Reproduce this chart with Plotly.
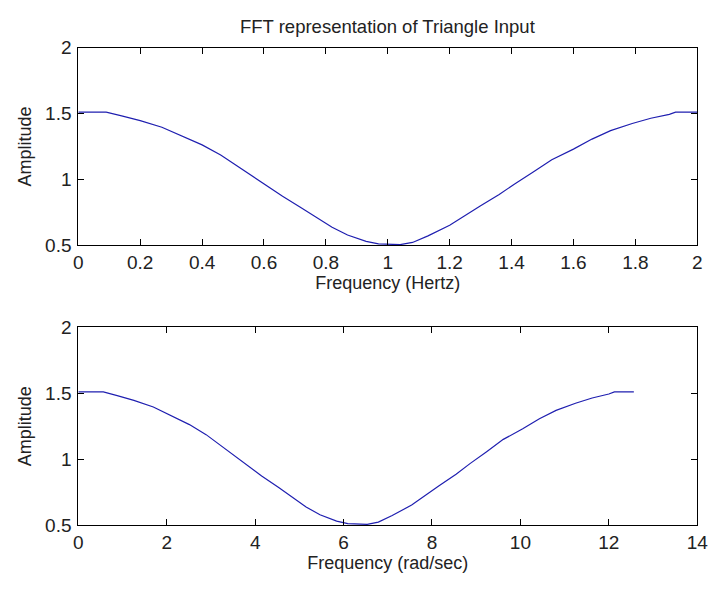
import math
import plotly.graph_objects as go

# Spectrum magnitude of the triangle input, sampled in Hz
freq_hz = [0.0, 0.09, 0.14, 0.20, 0.27, 0.33, 0.40, 0.46, 0.52, 0.57, 0.61,
           0.66, 0.72, 0.77, 0.82, 0.87, 0.93, 0.97, 1.04, 1.08, 1.13, 1.20,
           1.24, 1.30, 1.36, 1.41, 1.47, 1.53, 1.60, 1.66, 1.72, 1.79, 1.85,
           1.91, 1.93, 2.00]
amplitude = [1.510, 1.510, 1.482, 1.446, 1.396, 1.336, 1.262, 1.186, 1.092,
             1.017, 0.956, 0.872, 0.786, 0.714, 0.637, 0.578, 0.530, 0.511,
             0.505, 0.522, 0.572, 0.652, 0.712, 0.800, 0.885, 0.966, 1.056,
             1.150, 1.230, 1.306, 1.370, 1.424, 1.464, 1.494, 1.510, 1.510]

# Same spectrum against angular frequency (rad/sec)
freq_rad = [2 * math.pi * f for f in freq_hz]

top_xticks = [0, 0.2, 0.4, 0.6, 0.8, 1, 1.2, 1.4, 1.6, 1.8, 2]
top_xlabels = ["0", "0.2", "0.4", "0.6", "0.8", "1", "1.2", "1.4", "1.6", "1.8", "2"]
bottom_xticks = [0, 2, 4, 6, 8, 10, 12, 14]
yticks = [0.5, 1, 1.5, 2]
ylabels = ["0.5", "1", "1.5", "2"]

W, H = 718, 592
FONT = "Liberation Sans, Arial, sans-serif"
LINE = "#1f1fb0"

fig = go.Figure()
fig.add_trace(go.Scatter(x=freq_hz, y=amplitude, mode="lines",
                         line=dict(color=LINE, width=1.2), xaxis="x", yaxis="y",
                         showlegend=False))
fig.add_trace(go.Scatter(x=freq_rad, y=amplitude, mode="lines",
                         line=dict(color=LINE, width=1.2), xaxis="x2", yaxis="y2",
                         showlegend=False))

x_dom = [75 / W, 708 / W]
top_dom = [1 - 244 / H, 1 - 39 / H]
bot_dom = [1 - 534 / H, 1 - 329 / H]

axis_common = dict(
    showline=True, linecolor="black", linewidth=1, mirror="ticks",
    ticks="inside", ticklen=6, tickcolor="black", tickwidth=1,
    showgrid=False, zeroline=False,
    tickfont=dict(family=FONT, size=19, color="#222"),
    title_font=dict(family=FONT, size=18, color="#222"),
)

fig.update_layout(
    width=W, height=H,
    margin=dict(l=0, r=0, t=0, b=0),
    paper_bgcolor="white", plot_bgcolor="white",
    xaxis=dict(domain=x_dom, anchor="y", range=[0, 2], tickvals=top_xticks,
               ticktext=top_xlabels, ticklabelstandoff=0,
               title=dict(text="Frequency (Hertz)", standoff=2),
               **axis_common),
    yaxis=dict(domain=top_dom, anchor="x", range=[0.5, 2], tickvals=yticks,
               ticktext=ylabels, ticklabelstandoff=2,
               title=dict(text="Amplitude", standoff=8),
               **axis_common),
    xaxis2=dict(domain=x_dom, anchor="y2", range=[0, 14], tickvals=bottom_xticks,
                ticklabelstandoff=0,
                title=dict(text="Frequency (rad/sec)", standoff=2),
                **axis_common),
    yaxis2=dict(domain=bot_dom, anchor="x2", range=[0.5, 2], tickvals=yticks,
                ticktext=ylabels, ticklabelstandoff=2,
                title=dict(text="Amplitude", standoff=8),
                **axis_common),
    annotations=[dict(text="FFT representation of Triangle Input",
                      x=(x_dom[0] + x_dom[1]) / 2, y=1 - 17 / H,
                      xref="paper", yref="paper", showarrow=False,
                      xanchor="center", yanchor="middle",
                      font=dict(family=FONT, size=18.5, color="#222"))],
)

fig.write_html("out.html")
